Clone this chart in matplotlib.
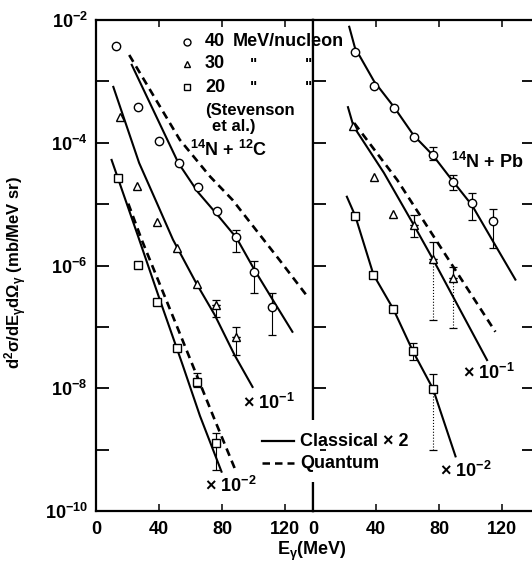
import matplotlib
matplotlib.use("Agg")
import matplotlib.pyplot as plt
import numpy as np
from matplotlib.ticker import FixedLocator, NullLocator, FuncFormatter
from matplotlib.patches import Rectangle

plt.rcParams['font.family'] = ['Liberation Sans', 'DejaVu Sans']
plt.rcParams['font.weight'] = 'bold'
plt.rcParams['mathtext.default'] = 'regular'

# ---------------- data: 14N + 12C (left panel) ----------------
c_E40 = [12.7, 26.6, 40, 52.5, 64.6, 76.6, 88.6, 100, 111.5]
c_V40 = [3.80e-3, 3.80e-4, 1.07e-4, 4.68e-5, 1.91e-5, 7.76e-6, 2.95e-6, 7.94e-7, 2.14e-7]
c_err40_E = [88.6, 100, 111.5]
c_err40_V = [2.95e-6, 7.94e-7, 2.14e-7]
c_err40_hi = [3.80e-6, 1.17e-6, 3.55e-7]
c_err40_lo = [1.66e-6, 3.55e-7, 7.41e-8]
c_cls40_E = [22.7, 37.5, 52.3, 64.6, 76.6, 89.2, 100.6, 112, 124.7]
c_cls40_V = [1.86e-3, 2.95e-4, 4.68e-5, 1.58e-5, 6.92e-6, 2.82e-6, 8.51e-7, 2.82e-7, 8.32e-8]
c_qm40_E = [21.1, 53.2, 72.4, 86.7, 116.5, 133.5]
c_qm40_V = [2.69e-3, 1.12e-4, 2.82e-5, 1.17e-5, 1.23e-6, 3.31e-7]

c_E30 = [15.2, 26.2, 38.5, 51.4, 64, 76.5, 88.6]
c_V30 = [2.63e-4, 2.00e-5, 5.13e-6, 1.95e-6, 5.01e-7, 2.29e-7, 6.92e-8]
c_err30_E = [76.5, 88.6]
c_err30_V = [2.29e-7, 6.92e-8]
c_err30_hi = [2.75e-7, 1.00e-7]
c_err30_lo = [1.45e-7, 3.47e-8]
c_cls30_E = [11, 27.4, 38.6, 48.9, 63.9, 75.3, 88, 99.4]
c_cls30_V = [8.13e-4, 4.68e-5, 1.05e-5, 2.63e-6, 5.01e-7, 1.58e-7, 3.47e-8, 1.05e-8]

c_E20 = [14.1, 26.5, 38.6, 51.3, 64, 76.5]
c_V20 = [2.63e-5, 1.02e-6, 2.51e-7, 4.57e-8, 1.26e-8, 1.29e-9]
c_err20_E = [64, 76.5]
c_err20_V = [1.26e-8, 1.29e-9]
c_err20_hi = [1.78e-8, 1.86e-9]
c_err20_lo = [1.05e-8, 4.68e-10]
c_cls20_E = [9.9, 26.8, 40, 55, 66, 79.7]
c_cls20_V = [5.25e-5, 2.95e-6, 3.02e-7, 2.40e-8, 3.55e-9, 4.37e-10]
c_qm20_E = [20.5, 29, 52, 75.3, 88]
c_qm20_V = [1.02e-5, 2.63e-6, 9.33e-8, 3.09e-9, 5.01e-10]

# ---------------- data: 14N + Pb (right panel) ----------------
p_E40 = [26.6, 38.8, 51.5, 63.9, 76, 88.6, 101, 114]
p_V40 = [3.02e-3, 8.51e-4, 3.63e-4, 1.23e-4, 6.31e-5, 2.29e-5, 1.05e-5, 5.37e-6]
p_err40_E = [76, 88.6, 101, 114]
p_err40_V = [6.31e-5, 2.29e-5, 1.05e-5, 5.37e-6]
p_err40_hi = [8.51e-5, 2.95e-5, 1.51e-5, 8.32e-6]
p_err40_lo = [5.25e-5, 1.70e-5, 5.50e-6, 1.95e-6]
p_cls40_E = [23, 26.6, 38.8, 51.5, 63.9, 76, 88.6, 101, 114.6, 128.5]
p_cls40_V = [7.76e-3, 3.55e-3, 1.0e-3, 3.80e-4, 1.32e-4, 6.31e-5, 2.40e-5, 9.55e-6, 2.40e-6, 5.89e-7]

p_E30 = [25.7, 38.7, 50.7, 64, 76.2, 88.8]
p_V30 = [1.86e-4, 2.75e-5, 6.92e-6, 4.57e-6, 1.26e-6, 6.17e-7]
p_err30_E = [64, 76.2, 88.8]
p_err30_V = [4.57e-6, 1.26e-6, 6.17e-7]
p_err30_hi = [6.61e-6, 2.40e-6, 9.55e-7]
p_err30_lo = [2.88e-6, 1.29e-7, 9.55e-8]
p_cls30_E = [22.2, 25.7, 45, 64, 76.2, 110.5]
p_cls30_V = [3.80e-4, 1.86e-4, 3.24e-5, 4.57e-6, 1.26e-6, 2.88e-8]
p_qm30_E = [26.2, 53.6, 85, 115.8]
p_qm30_V = [2.09e-4, 2.45e-5, 1.38e-6, 8.32e-8]

p_E20 = [26.8, 38.4, 51, 63.5, 76.2]
p_V20 = [6.46e-6, 7.08e-7, 1.95e-7, 3.98e-8, 9.77e-9]
p_err20_E = [63.5, 76.2]
p_err20_V = [3.98e-8, 9.77e-9]
p_err20_hi = [5.50e-8, 1.70e-8]
p_err20_lo = [2.88e-8, 1.0e-9]
p_cls20_E = [21.5, 26.8, 38.4, 51, 63.5, 76.2, 90.5]
p_cls20_V = [1.32e-5, 6.46e-6, 7.08e-7, 1.95e-7, 3.98e-8, 9.77e-9, 7.76e-10]

x_ticks = [0, 40, 80, 120]
y_decades = [1e-10, 1e-9, 1e-8, 1e-7, 1e-6, 1e-5, 1e-4, 1e-3, 1e-2]
y_labelled = [-10, -8, -6, -4, -2]

W, H = 532, 562
fig = plt.figure(figsize=(W / 100, H / 100), dpi=100)
PXE = 1.575  # px per MeV
axL = fig.add_axes([96 / W, 1 - 511 / H, 217 / W, 491 / H])
axR = fig.add_axes([313 / W, 1 - 511 / H, 221 / W, 491 / H])


def fmt(v, pos):
    e = int(round(np.log10(v)))
    return r"$10^{%d}$" % e if e in y_labelled else ""


for ax, xmax in ((axL, 217 / PXE), (axR, 221 / PXE)):
    ax.set_yscale('log')
    ax.set_ylim(1e-10, 1e-2)
    ax.set_xlim(0, xmax)
    ax.yaxis.set_major_locator(FixedLocator(y_decades))
    ax.yaxis.set_minor_locator(NullLocator())
    ax.xaxis.set_major_locator(FixedLocator(x_ticks))
    ax.set_xticklabels([str(t) for t in x_ticks])
    for s in ax.spines.values():
        s.set_linewidth(1.6)
    ax.tick_params(axis='x', which='major', direction='in', top=True, bottom=True,
                   length=5, width=1.1, labelsize=13, pad=7)
    ax.tick_params(axis='y', which='major', direction='in', length=9, width=1.3,
                   labelsize=13, pad=6)

axL.yaxis.set_major_formatter(FuncFormatter(fmt))
axL.tick_params(axis='y', left=True, right=False)
axR.tick_params(axis='y', left=True, right=True, labelleft=False)

mk = dict(mfc='white', mec='black', mew=1.0, ms=6, ls='none', zorder=5)
solid = dict(color='black', lw=1.5, zorder=3)
dash = dict(color='black', lw=1.9, dashes=(3, 2), zorder=3)
eb = dict(fmt='none', ecolor='black', elinewidth=0.9, capsize=3, capthick=0.9, zorder=4)


def errbars(ax, E, V, lo, hi):
    V = np.array(V)
    up = np.array(hi) - V
    dn = V - np.array(lo)
    ax.errorbar(E, V, yerr=[np.zeros_like(V), up], **eb)
    res = ax.errorbar(E, V, yerr=[dn, np.zeros_like(V)], **eb)
    # long lower bars are faint dotted in the original
    ratio = V / np.array(lo)
    for lc in res[2]:
        lc.set_linestyles([':' if r > 3 else '-' for r in ratio])
        lc.set_linewidth(0.8)


# left panel
axL.plot(c_cls40_E, c_cls40_V, **solid)
axL.plot(c_qm40_E, c_qm40_V, **dash)
axL.plot(c_cls30_E, c_cls30_V, **solid)
axL.plot(c_cls20_E, c_cls20_V, **solid)
axL.plot(c_qm20_E, c_qm20_V, **dash)
errbars(axL, c_err40_E, c_err40_V, c_err40_lo, c_err40_hi)
errbars(axL, c_err30_E, c_err30_V, c_err30_lo, c_err30_hi)
errbars(axL, c_err20_E, c_err20_V, c_err20_lo, c_err20_hi)
axL.plot(c_E40, c_V40, marker='o', **mk)
axL.plot(c_E30, c_V30, marker='^', **mk)
axL.plot(c_E20, c_V20, marker='s', **{**mk, 'ms': 5.5})

# right panel
axR.plot(p_cls40_E, p_cls40_V, **solid)
axR.plot(p_cls30_E, p_cls30_V, **solid)
axR.plot(p_qm30_E, p_qm30_V, **dash)
axR.plot(p_cls20_E, p_cls20_V, **solid)
errbars(axR, p_err40_E, p_err40_V, p_err40_lo, p_err40_hi)
errbars(axR, p_err30_E, p_err30_V, p_err30_lo, p_err30_hi)
errbars(axR, p_err20_E, p_err20_V, p_err20_lo, p_err20_hi)
axR.plot(p_E40, p_V40, marker='o', **mk)
axR.plot(p_E30, p_V30, marker='^', **mk)
axR.plot(p_E20, p_V20, marker='s', **{**mk, 'ms': 5.5})


def P(x, y):
    return (x / W, 1 - y / H)


def ftext(x, y, s, size=13, ha='left', va='center', **kw):
    fig.text(*P(x, y), s, fontsize=size, ha=ha, va=va, fontweight='bold', **kw)


# gap in the shared axis line behind the line legend
fig.add_artist(Rectangle(P(306, 482), 14 / W, 62 / H, transform=fig.transFigure,
                         facecolor='white', edgecolor='none', zorder=2.5))

# scale factors
ftext(243, 403, r"× 10$^{-1}$")
ftext(205, 486, r"× 10$^{-2}$")
ftext(463, 373, r"× 10$^{-1}$")
ftext(440, 471, r"× 10$^{-2}$")

# line legend
fig.add_artist(plt.Line2D([262 / W, 294 / W], [1 - 441 / H] * 2, color='black', lw=1.6))
fig.add_artist(plt.Line2D([262 / W, 294 / W], [1 - 463 / H] * 2, color='black', lw=1.8,
                          dashes=(3, 2)))
ftext(300, 441, "Classical × 2")
ftext(300, 463, "Quantum")

# symbol legend
for yy, m, lab in ((42, 'o', "40"), (64, '^', "30"), (87, 's', "20")):
    fig.add_artist(plt.Line2D([187 / W], [1 - yy / H], marker=m, mfc='white', mec='black',
                              mew=1.0, ms=5, ls='none'))
    ftext(205, yy, lab)
ftext(233, 42, "MeV/nucleon")
for yy in (64, 87):
    ftext(250, yy, '"', size=11)
    ftext(305, yy, '"', size=11)
ftext(205, 110, "(Stevenson", size=12)
ftext(212, 127, "et al.)", size=12)

# reaction labels
ftext(190, 150, r"$^{14}$N + $^{12}$C")
ftext(451, 162, r"$^{14}$N + Pb")

# axis labels
ftext(16, 272, r"d$^2\sigma$/dE$_\gamma$d$\Omega_\gamma$ (mb/MeV sr)", size=12,
      ha='center', rotation=90)
ftext(312, 551, r"E$_\gamma$(MeV)", ha='center')

fig.savefig("out.png", dpi=100)
